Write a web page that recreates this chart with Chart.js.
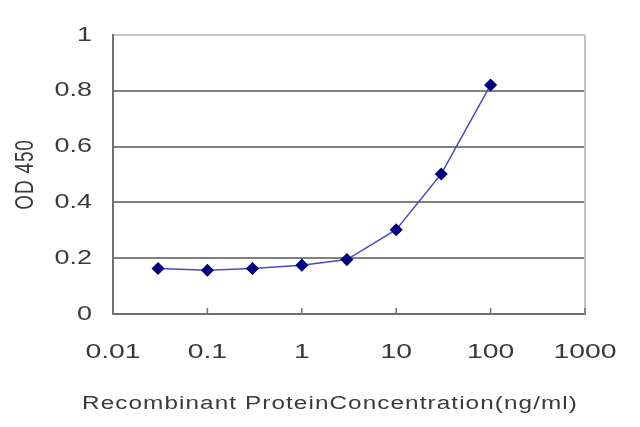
<!DOCTYPE html>
<html>
<head>
<meta charset="utf-8">
<script src="https://cdn.jsdelivr.net/npm/chart.js@4/dist/chart.umd.min.js"></script>
<style>
  html, body { margin: 0; padding: 0; background: #fff; }
  #wrap { width: 640px; height: 427px; }
</style>
</head>
<body>
<div id="wrap"><canvas id="elisa"></canvas></div>
<script>
// concentration (ng/ml) and OD 450
const conc = [0.03, 0.1, 0.3, 1, 3, 10, 30, 100];
const od450 = [0.163, 0.157, 0.163, 0.175, 0.195, 0.302, 0.502, 0.821];
const xTicks = [0.01, 0.1, 1, 10, 100, 1000];
const xTickLabels = ["0.01", "0.1", "1", "10", "100", "1000"];
const yTicks = [0, 0.2, 0.4, 0.6, 0.8, 1];
const yTickLabels = ["0", "0.2", "0.4", "0.6", "0.8", "1"];

// the source picture is stretched sideways, so text is drawn wider
const TEXT_STRETCH = 1.35;

const canvas = document.getElementById("elisa");
const ctx = canvas.getContext("2d");
const rawFillText = ctx.fillText;
ctx.fillText = function (text, x, y, maxWidth) {
  const m = this.getTransform();
  const p = m.transformPoint(new DOMPoint(x, y));
  const stretched = new DOMMatrix()
    .translate(p.x, p.y)
    .scale(TEXT_STRETCH, 1)
    .translate(-p.x, -p.y)
    .multiply(m);
  this.save();
  this.setTransform(stretched);
  if (maxWidth === undefined) rawFillText.call(this, text, x, y);
  else rawFillText.call(this, text, x, y, maxWidth);
  this.restore();
};

// Excel style inward tick marks on the x axis, light right border,
// and the letter spacing / offset of the axis titles
const excelLook = {
  id: "excelLook",
  beforeDraw(chart) {
    for (const [id, sp, dx] of [["x", "0.8px", -19], ["y", "0.8px", 0]]) {
      const s = chart.scales[id];
      if (s._spaced) continue;
      const orig = s.drawTitle;
      s.drawTitle = function () {
        const c = this.ctx;
        c.save();
        c.letterSpacing = sp;
        c.translate(dx, 0);
        orig.apply(this, arguments);
        c.restore();
      };
      s._spaced = true;
    }
  },
  afterDatasetsDraw(chart) {
    const { ctx, chartArea, scales } = chart;
    ctx.save();
    ctx.strokeStyle = "#c4c4c4";
    ctx.lineWidth = 2;
    ctx.beginPath();
    ctx.moveTo(chartArea.right, chartArea.top);
    ctx.lineTo(chartArea.right, chartArea.bottom);
    ctx.stroke();
    ctx.strokeStyle = "#707070";
    ctx.lineWidth = 1.5;
    for (const v of xTicks) {
      const px = scales.x.getPixelForValue(v);
      ctx.beginPath();
      ctx.moveTo(px, chartArea.bottom);
      ctx.lineTo(px, chartArea.bottom - 6);
      ctx.stroke();
    }
    ctx.restore();
  }
};

new Chart(ctx, {
  type: "line",
  data: {
    datasets: [
      {
        data: conc.map((c, i) => ({ x: c, y: od450[i] })),
        borderColor: "#4a4ac0",
        borderWidth: 1.5,
        pointStyle: "rectRot",
        pointRadius: 5.5,
        pointBackgroundColor: "#000080",
        pointBorderColor: "#000080",
        tension: 0
      }
    ]
  },
  options: {
    responsive: true,
    maintainAspectRatio: false,
    animation: false,
    layout: { padding: { top: 35, right: 55, left: 0, bottom: 0 } },
    plugins: { legend: { display: false }, tooltip: { enabled: false } },
    scales: {
      x: {
        type: "logarithmic",
        min: 0.01,
        max: 1000,
        afterBuildTicks: (s) => { s.ticks = xTicks.map(v => ({ value: v })); },
        afterFit: (s) => { s.height = 113; },
        ticks: {
          autoSkip: false,
          maxRotation: 0,
          padding: 26,
          color: "#3a3a3a",
          font: { family: "Liberation Sans", size: 21 },
          callback: (v) => xTickLabels[xTicks.indexOf(v)] ?? ""
        },
        grid: { display: false, drawTicks: false },
        border: { display: true, color: "#707070", width: 2 },
        title: {
          display: true,
          text: "Recombinant ProteinConcentration(ng/ml)",
          color: "#3a3a3a",
          font: { family: "Liberation Sans", size: 18 },
          padding: { top: 4, bottom: 12 }
        }
      },
      y: {
        min: 0,
        max: 1,
        afterBuildTicks: (s) => { s.ticks = yTicks.map(v => ({ value: v })); },
        afterFit: (s) => { s.width = 113; },
        ticks: {
          padding: 21,
          color: "#3a3a3a",
          font: { family: "Liberation Sans", size: 20 },
          callback: (v) => yTickLabels[yTicks.indexOf(v)] ?? ""
        },
        grid: {
          drawTicks: false,
          lineWidth: 2,
          color: (c) => (c.tick && c.tick.value === 1 ? "#c4c4c4" : "#808080")
        },
        border: { display: true, color: "#707070", width: 2 },
        title: {
          display: true,
          text: "OD 450",
          color: "#3a3a3a",
          font: { family: "Liberation Sans", size: 19 },
          padding: { top: 15, bottom: 4 }
        }
      }
    }
  },
  plugins: [excelLook]
});
</script>
</body>
</html>
